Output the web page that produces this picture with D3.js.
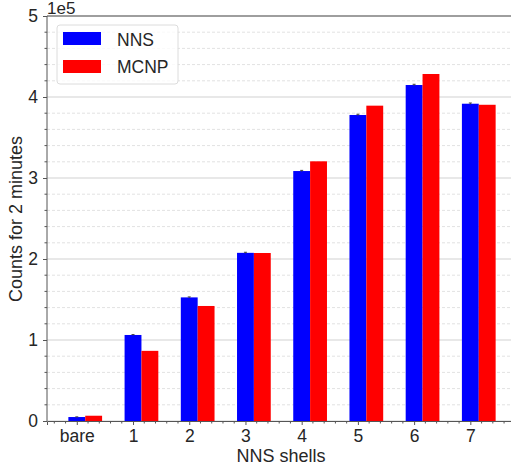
<!DOCTYPE html>
<meta charset="utf-8">
<style>
body { margin: 0; background: #fff; }
text { font-family: "Liberation Sans", Arial, sans-serif; fill: #262626; }
</style>
<svg id="chart" width="511" height="472"></svg>
<script src="https://cdn.jsdelivr.net/npm/d3@7"></script>
<script>
var categories = ["bare", "1", "2", "3", "4", "5", "6", "7"];
var nnsCounts = [4900, 106200, 152600, 207600, 308600, 377800, 414800, 391700];
var nnsErrors = [200, 500, 600, 700, 800, 900, 900, 900];
var mcnpCounts = [6500, 86600, 142000, 207400, 320600, 389300, 428400, 390400];
var yTicks = [0, 1, 2, 3, 4, 5];

var svg = d3.select("#chart");
var plotLeft = 47, plotRight = 517, plotTop = 16, plotBottom = 421;
var barW = 0.3;

var x = d3.scaleLinear().domain([-0.53, 7.83]).range([plotLeft, plotRight]);
var y = d3.scaleLinear().domain([0, 5e5]).range([plotBottom, plotTop]);

// minor grid (dashed)
var minor = d3.range(0, 5e5 + 1, 2e4).filter(function(v) { return v % 1e5 != 0; });
svg.append("g").selectAll("line").data(minor).enter().append("line")
    .attr("x1", plotLeft).attr("x2", 511)
    .attr("y1", function(d) { return y(d); }).attr("y2", function(d) { return y(d); })
    .attr("stroke", "#e2e2e2").attr("stroke-width", 1).attr("stroke-dasharray", "3,2");

// major grid
svg.append("g").selectAll("line").data(yTicks).enter().append("line")
    .attr("x1", plotLeft).attr("x2", 511)
    .attr("y1", function(d) { return y(d * 1e5); }).attr("y2", function(d) { return y(d * 1e5); })
    .attr("stroke", "#e0e0e0").attr("stroke-width", 1.6);

// bars
var idx = d3.range(categories.length);
svg.append("g").selectAll("rect").data(idx).enter().append("rect")
    .attr("x", function(i) { return x(i - barW / 2); })
    .attr("width", function(i) { return x(barW) - x(0); })
    .attr("y", function(i) { return y(nnsCounts[i]); })
    .attr("height", function(i) { return plotBottom - y(nnsCounts[i]); })
    .attr("fill", "#0000ff");

svg.append("g").selectAll("rect").data(idx).enter().append("rect")
    .attr("x", function(i) { return x(i + barW / 2); })
    .attr("width", function(i) { return x(barW) - x(0); })
    .attr("y", function(i) { return y(mcnpCounts[i]); })
    .attr("height", function(i) { return plotBottom - y(mcnpCounts[i]); })
    .attr("fill", "#ff0000");

// error bars on NNS (tiny)
var eb = svg.append("g").attr("stroke", "#444").attr("stroke-width", 1);
idx.forEach(function(i) {
  var cx = x(i);
  eb.append("line").attr("x1", cx).attr("x2", cx)
    .attr("y1", y(nnsCounts[i] - nnsErrors[i])).attr("y2", y(nnsCounts[i] + nnsErrors[i]));
  eb.append("line").attr("x1", cx - 1.5).attr("x2", cx + 1.5)
    .attr("y1", y(nnsCounts[i] + nnsErrors[i])).attr("y2", y(nnsCounts[i] + nnsErrors[i]));
});

// spines
svg.append("line").attr("x1", plotLeft).attr("x2", 511).attr("y1", plotTop).attr("y2", plotTop)
    .attr("stroke", "#555").attr("stroke-width", 1);
svg.append("line").attr("x1", plotLeft).attr("x2", plotLeft).attr("y1", plotTop).attr("y2", plotBottom)
    .attr("stroke", "#555").attr("stroke-width", 1);

// x axis
var xAxis = d3.axisBottom(x).tickValues(idx).tickSize(4).tickPadding(5)
    .tickFormat(function(i) { return categories[i]; });
var gx = svg.append("g").attr("transform", "translate(0," + plotBottom + ")").call(xAxis);
gx.select(".domain").attr("stroke", "#555");
gx.selectAll(".tick line").attr("stroke", "#555");
gx.selectAll("text").attr("font-size", 17.5).attr("fill", "#262626")
    .attr("font-family", "Liberation Sans, Arial, sans-serif");
var xMinor = d3.range(-0.4, 7.81, 0.2).filter(function(v) { return Math.abs(v - Math.round(v)) > 0.01; });
svg.append("g").selectAll("line").data(xMinor).enter().append("line")
    .attr("x1", function(d) { return x(d); }).attr("x2", function(d) { return x(d); })
    .attr("y1", plotBottom).attr("y2", plotBottom + 2.5).attr("stroke", "#555");

// y axis
var yAxis = d3.axisLeft(y).tickValues(yTicks.map(function(d) { return d * 1e5; }))
    .tickSize(4).tickPadding(5).tickFormat(function(d) { return d / 1e5; });
var gy = svg.append("g").attr("transform", "translate(" + plotLeft + ",0)").call(yAxis);
gy.select(".domain").remove();
gy.selectAll(".tick line").attr("stroke", "#555");
gy.selectAll("text").attr("font-size", 17.5).attr("fill", "#262626")
    .attr("font-family", "Liberation Sans, Arial, sans-serif");
svg.append("g").selectAll("line").data(minor).enter().append("line")
    .attr("x1", plotLeft - 2.5).attr("x2", plotLeft)
    .attr("y1", function(d) { return y(d); }).attr("y2", function(d) { return y(d); })
    .attr("stroke", "#555");

// offset text
svg.append("text").attr("x", plotLeft).attr("y", 14).attr("font-size", 17).text("1e5");

// labels
svg.append("text").attr("x", 281).attr("y", 462).attr("text-anchor", "middle")
    .attr("font-size", 18).text("NNS shells");
svg.append("text").attr("transform", "translate(22,219) rotate(-90)")
    .attr("text-anchor", "middle").attr("font-size", 18).text("Counts for 2 minutes");

// legend
var lg = svg.append("g").attr("transform", "translate(57,25)");
lg.append("rect").attr("width", 121).attr("height", 59).attr("rx", 3)
    .attr("fill", "#fff").attr("fill-opacity", 0.8).attr("stroke", "#dcdcdc");
var legendItems = [["NNS", "#0000ff"], ["MCNP", "#ff0000"]];
legendItems.forEach(function(d, i) {
  lg.append("rect").attr("x", 6).attr("y", 7 + i * 28).attr("width", 38).attr("height", 13).attr("fill", d[1]);
  lg.append("text").attr("x", 60).attr("y", 21 + i * 27).attr("font-size", 17.5).text(d[0]);
});
</script>
